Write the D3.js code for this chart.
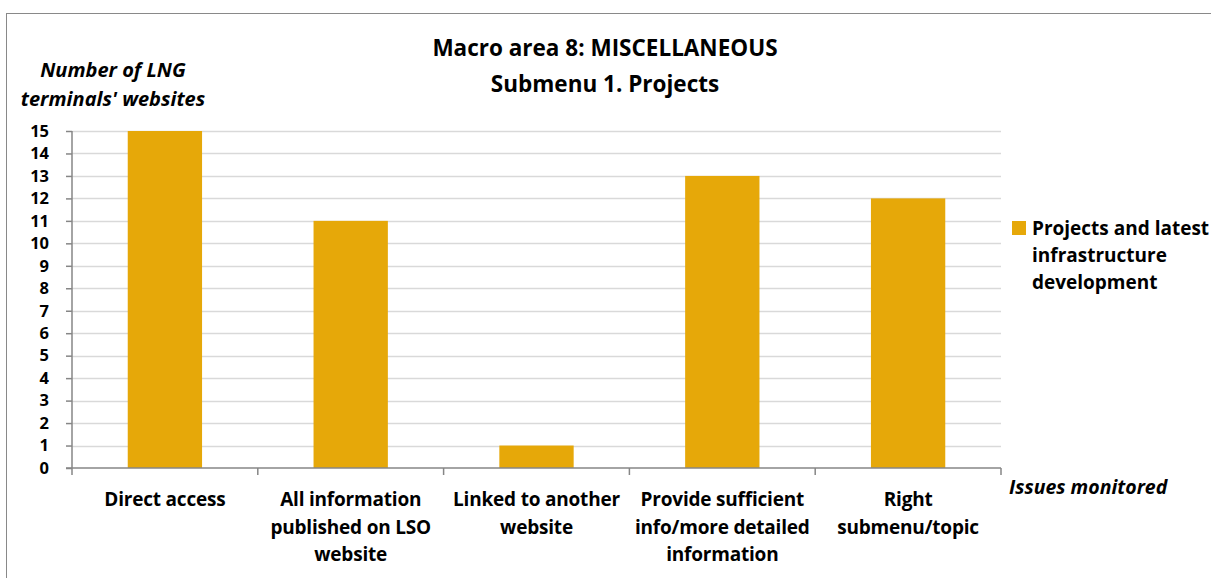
<!DOCTYPE html>
<html>
<head>
<meta charset="utf-8">
<script src="https://cdn.jsdelivr.net/npm/d3@7"></script>
<style>
  body { margin: 0; background: #fff; }
  svg text { font-family: "Open Sans", "Noto Sans", sans-serif; font-weight: bold; fill: #000; }
</style>
</head>
<body>
<div id="chart"></div>
<script>
// data
var categories = [
  ["Direct access"],
  ["All information", "published on LSO", "website"],
  ["Linked to another", "website"],
  ["Provide sufficient", "info/more detailed", "information"],
  ["Right", "submenu/topic"]
];
var values = [15, 11, 1, 13, 12];
var yTicks = d3.range(0, 16);
var seriesName = ["Projects and latest", "infrastructure", "development"];

var W = 1211, H = 578;
var plot = {left: 72, right: 1001, top: 131, bottom: 468};

var svg = d3.select("#chart").append("svg")
    .attr("width", W).attr("height", H);

// outer frame
svg.append("rect")
    .attr("x", 6.5).attr("y", 13.5)
    .attr("width", 1210).attr("height", 600)
    .attr("fill", "none").attr("stroke", "#898989").attr("stroke-width", 1);

var x = d3.scaleBand()
    .domain(d3.range(categories.length))
    .range([plot.left, plot.right])
    .paddingInner(0.6).paddingOuter(0.3);

var y = d3.scaleLinear()
    .domain([0, 15])
    .range([plot.bottom, plot.top]);

// gridlines
svg.append("g")
    .selectAll("line")
    .data(yTicks.filter(function(d){ return d > 0; }))
    .enter().append("line")
    .attr("x1", plot.left).attr("x2", plot.right)
    .attr("y1", function(d){ return Math.round(y(d)) + 0.5; })
    .attr("y2", function(d){ return Math.round(y(d)) + 0.5; })
    .attr("stroke", "#d9d9d9").attr("stroke-width", 1.5);

// bars
svg.append("g")
    .selectAll("rect")
    .data(values)
    .enter().append("rect")
    .attr("x", function(d, i){ return x(i); })
    .attr("width", x.bandwidth())
    .attr("y", function(d){ return y(d); })
    .attr("height", function(d){ return y(0) - y(d); })
    .attr("fill", "#e6a809");

// y axis
var yAxis = svg.append("g")
    .attr("transform", "translate(" + plot.left + ",0)")
    .call(d3.axisLeft(y).tickValues(yTicks).tickSize(6).tickPadding(17));
yAxis.selectAll("path, line").attr("stroke", "#868686").attr("stroke-width", 1.5);
yAxis.select(".domain").attr("d", "M0," + plot.top + "V" + plot.bottom);
yAxis.selectAll("text").style("font-size", "16.5px").attr("fill", "#000");

// x axis baseline and category ticks
var xg = svg.append("g");
xg.append("line")
    .attr("x1", plot.left - 6).attr("x2", plot.right)
    .attr("y1", plot.bottom).attr("y2", plot.bottom)
    .attr("stroke", "#868686").attr("stroke-width", 1.5);
xg.selectAll(".tk")
    .data(d3.range(categories.length + 1))
    .enter().append("line")
    .attr("x1", function(i){ return plot.left + i * (plot.right - plot.left) / categories.length; })
    .attr("x2", function(i){ return plot.left + i * (plot.right - plot.left) / categories.length; })
    .attr("y1", plot.bottom).attr("y2", plot.bottom + 7)
    .attr("stroke", "#868686").attr("stroke-width", 1.5);

// category labels
var lab = svg.append("g").selectAll("text")
    .data(categories)
    .enter().append("text")
    .attr("text-anchor", "middle")
    .attr("x", function(d, i){ return x(i) + x.bandwidth() / 2; })
    .attr("y", 506)
    .style("font-size", "19px")
    .style("letter-spacing", "-0.2px");
lab.selectAll("tspan")
    .data(function(d){ return d; })
    .enter().append("tspan")
    .attr("x", function(){ return d3.select(this.parentNode).attr("x"); })
    .attr("dy", function(d, i){ return i === 0 ? 0 : 27.5; })
    .text(function(d){ return d; });

// title
svg.append("text")
    .attr("x", 605).attr("y", 56)
    .attr("text-anchor", "middle")
    .style("font-size", "22.5px")
    .text("Macro area 8: MISCELLANEOUS");
svg.append("text")
    .attr("x", 605).attr("y", 92)
    .attr("text-anchor", "middle")
    .style("font-size", "22.5px")
    .text("Submenu 1. Projects");

// y axis title
svg.append("text")
    .attr("x", 113).attr("y", 77)
    .attr("text-anchor", "middle")
    .style("font-size", "20px").style("font-style", "italic")
    .text("Number of LNG");
svg.append("text")
    .attr("x", 113).attr("y", 106)
    .attr("text-anchor", "middle")
    .style("font-size", "20px").style("font-style", "italic")
    .text("terminals' websites");

// x axis title
svg.append("text")
    .attr("x", 1009).attr("y", 494)
    .style("font-size", "19.5px").style("font-style", "italic")
    .text("Issues monitored");

// legend
var lg = svg.append("g");
lg.append("rect")
    .attr("x", 1012).attr("y", 221)
    .attr("width", 14).attr("height", 14)
    .attr("fill", "#e6a809");
lg.selectAll("text")
    .data(seriesName)
    .enter().append("text")
    .attr("x", 1032)
    .attr("y", function(d, i){ return 235 + i * 27; })
    .style("font-size", "19px")
    .text(function(d){ return d; });
</script>
</body>
</html>
